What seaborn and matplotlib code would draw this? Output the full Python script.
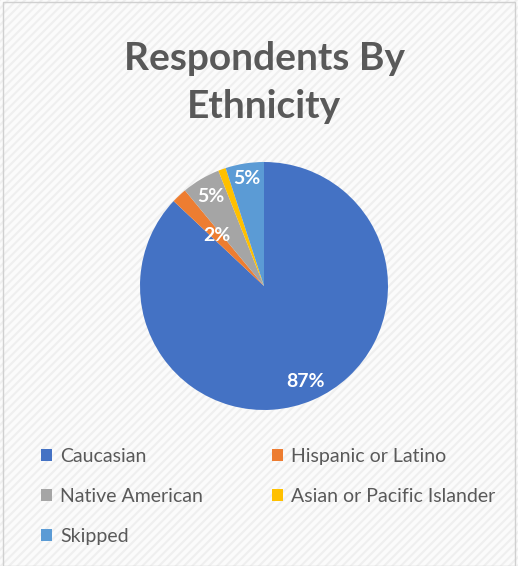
import matplotlib
matplotlib.use("Agg")
import matplotlib.pyplot as plt
import seaborn as sns
import numpy as np
from matplotlib.patches import Patch, Rectangle

categories = ["Caucasian", "Hispanic or Latino", "Native American",
              "Asian or Pacific Islander", "Skipped"]
percents = [87, 2, 5, 1, 5]
labels = ["87%", "2%", "5%", "", "5%"]
colors = ["#4472C4", "#ED7D31", "#A5A5A5", "#FFC000", "#5B9BD5"]
label_dist = [0.84, 0.56, 0.84, 0.8, 0.88]

sns.set_theme(style="white")
plt.rcParams['font.family'] = ['Lato', 'DejaVu Sans']

W, H = 518, 566
fig = plt.figure(figsize=(W / 100, H / 100), dpi=100)
fig.patch.set_facecolor("#f7f7f7")
plt.rcParams['hatch.linewidth'] = 1.5
bg = Rectangle((0, 0), 1, 1, transform=fig.transFigure, facecolor="#fbfbfb",
               edgecolor="#efefef", hatch="////", linewidth=0, zorder=-10)
fig.patches.append(bg)
border = Rectangle((3 / W, 0), 1 - 6 / W, 1 - 2 / H, transform=fig.transFigure,
                   facecolor="none", edgecolor="#d0d0d0", linewidth=1.0, zorder=-5)
fig.patches.append(border)

cx, cy, r = 264, 286, 124
ax = fig.add_axes([(cx - r) / W, 1 - (cy + r) / H, 2 * r / W, 2 * r / H])
ax.set_facecolor("none")
wedges, _ = ax.pie(percents, colors=colors, startangle=90, counterclock=False,
                   radius=1.0, wedgeprops=dict(linewidth=0))
for w, lab, d in zip(wedges, labels, label_dist):
    if not lab:
        continue
    ang = np.deg2rad((w.theta1 + w.theta2) / 2)
    ax.text(d * np.cos(ang), d * np.sin(ang), lab, ha="center", va="center",
            color="white", fontsize=14, fontweight="bold")
ax.set_xlim(-1, 1)
ax.set_ylim(-1, 1)
ax.set_aspect("auto")
ax.axis("off")

fig.text(cx / W, 1 - 59 / H, "Respondents By", ha="center", va="center",
         fontsize=28, fontweight="bold", color="#595959")
fig.text(cx / W, 1 - 106 / H, "Ethnicity", ha="center", va="center",
         fontsize=28, fontweight="bold", color="#595959")

def make_handles(idx):
    return [Patch(facecolor=colors[i], edgecolor="none") for i in idx], [categories[i] for i in idx]

legend_kw = dict(frameon=False, fontsize=14, labelcolor="#595959",
                 handlelength=0.58, handleheight=0.58, handletextpad=0.4,
                 labelspacing=1.18, borderaxespad=0, borderpad=0)
h1, l1 = make_handles([0, 2, 4])
leg1 = fig.legend(h1, l1, loc="upper left", bbox_to_anchor=(41 / W, 1 - 448 / H), **legend_kw)
h2, l2 = make_handles([1, 3])
leg2 = fig.legend(h2, l2, loc="upper left", bbox_to_anchor=(272 / W, 1 - 448 / H), **legend_kw)

fig.savefig("out.png", dpi=100, facecolor=fig.get_facecolor())
